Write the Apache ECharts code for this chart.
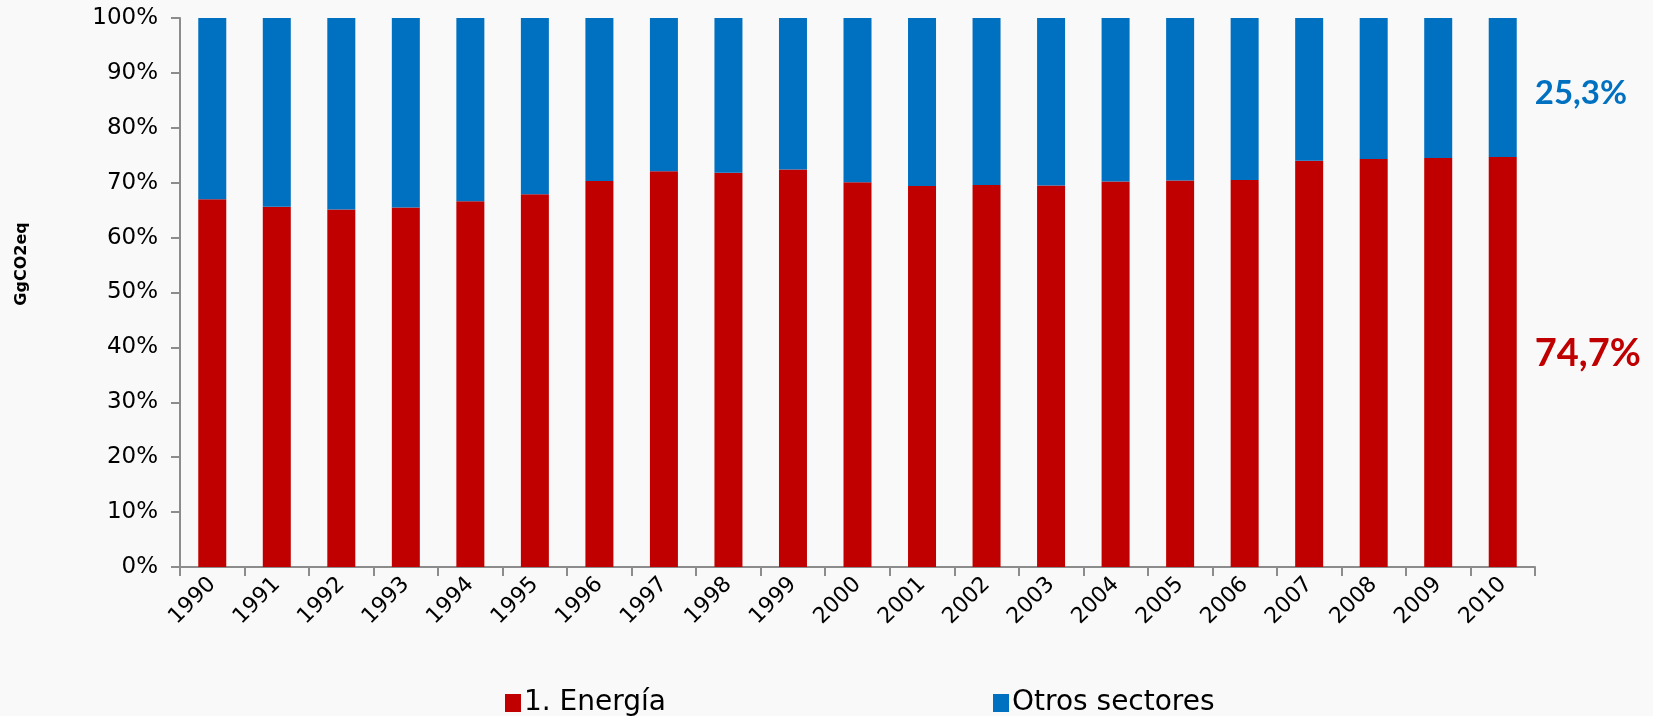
<!DOCTYPE html>
<html>
<head>
<meta charset="utf-8">
<script src="https://cdn.jsdelivr.net/npm/echarts@6/dist/echarts.min.js"></script>
<style>
html,body{margin:0;padding:0;background:#f9f9f9;}
#c{width:1653px;height:716px;}
</style>
</head>
<body>
<div id="c"></div>
<script>
var years = ['1990','1991','1992','1993','1994','1995','1996','1997','1998','1999','2000','2001','2002','2003','2004','2005','2006','2007','2008','2009','2010'];
var energia = [67.0,65.6,65.1,65.5,66.6,67.9,70.3,72.1,71.8,72.4,70.1,69.4,69.6,69.5,70.2,70.4,70.5,74.0,74.3,74.5,74.7];
var otros = [33.0,34.4,34.9,34.5,33.4,32.1,29.7,27.9,28.2,27.6,29.9,30.6,30.4,30.5,29.8,29.6,29.5,26.0,25.7,25.5,25.3];
var yTicks = ['0%','10%','20%','30%','40%','50%','60%','70%','80%','90%','100%'];
var seriesNames = ['1. Energía','Otros sectores'];
var yTitle = 'GgCO2eq';
var colors = ['#c00000','#0070c0'];

function lastLabel(arr, color, size, dy){
  return arr.map(function(v,i){
    if(i !== arr.length-1) return v;
    return {value:v, label:{show:true, position:'right', distance:18, offset:[0,dy],
      formatter:function(p){return p.value.toFixed(1).replace('.',',')+'%';},
      color:color, fontFamily:'Lato', fontWeight:'bold', fontSize:size}};
  });
}

var chart = echarts.init(document.getElementById('c'));
chart.setOption({
  backgroundColor:'#f9f9f9',
  animation:false,
  grid:{left:180,right:118,top:18,bottom:149},
  graphic:[{
    type:'text', x:22, y:264, rotation:Math.PI/2,
    style:{text:yTitle, fontFamily:'DejaVu Sans', fontWeight:'bold', fontSize:16, fill:'#000',
      textAlign:'center', textVerticalAlign:'middle'}
  }],
  legend:{
    data:seriesNames, left:500, top:684, itemGap:327, itemWidth:16, itemHeight:18,
    icon:'rect', textStyle:{fontFamily:'DejaVu Sans', fontSize:28, color:'#000', padding:[0,0,0,-2]}
  },
  xAxis:{
    type:'category', data:years,
    axisLine:{lineStyle:{color:'#8c8c8c',width:2}},
    axisTick:{show:true,length:9,lineStyle:{color:'#8c8c8c',width:2}},
    axisLabel:{rotate:45, margin:14, color:'#000', fontFamily:'DejaVu Sans', fontSize:22}
  },
  yAxis:{
    type:'value', min:0, max:100, interval:10,
    splitLine:{show:false},
    axisLine:{show:true,lineStyle:{color:'#8c8c8c',width:2}},
    axisTick:{show:true,length:9,lineStyle:{color:'#8c8c8c',width:2}},
    axisLabel:{margin:22, color:'#000', fontFamily:'DejaVu Sans', fontSize:23,
      formatter:function(v){return yTicks[Math.round(v/10)];}}
  },
  series:[
    {name:seriesNames[0], type:'bar', stack:'t', barWidth:28, data:lastLabel(energia, colors[0], 38, -8),
     itemStyle:{color:colors[0]}},
    {name:seriesNames[1], type:'bar', stack:'t', barWidth:28, data:lastLabel(otros, colors[1], 33, 6),
     itemStyle:{color:colors[1]}}
  ]
});
</script>
</body>
</html>
